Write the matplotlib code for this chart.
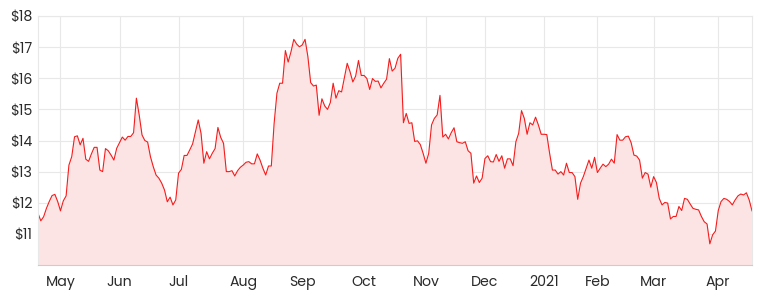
import matplotlib.pyplot as plt
import pandas as pd

# daily closing prices (ASX trading days from 21 Apr 2020)
prices = [
    11.66, 11.42, 11.55, 11.82, 12.04, 12.23, 12.27, 12.04, 11.74, 12.06,
    12.22, 13.21, 13.48, 14.12, 14.15, 13.86, 14.07, 13.40, 13.33, 13.57,
    13.78, 13.78, 13.05, 13.00, 13.74, 13.67, 13.53, 13.37, 13.75, 13.93,
    14.11, 14.01, 14.13, 14.13, 14.25, 15.36, 14.82, 14.18, 14.00, 13.95,
    13.48, 13.16, 12.89, 12.79, 12.63, 12.41, 12.03, 12.18, 11.93, 12.09,
    12.95, 13.07, 13.52, 13.52, 13.70, 13.89, 14.28, 14.66, 14.23, 13.27,
    13.64, 13.41, 13.59, 13.74, 14.42, 14.10, 13.91, 13.00, 13.00, 13.03,
    12.86, 13.03, 13.14, 13.21, 13.30, 13.32, 13.25, 13.25, 13.57, 13.37,
    # Aug -> Dec
    13.11, 12.89, 13.18, 13.18, 14.55, 15.52, 15.84, 15.84, 16.89, 16.52,
    16.85, 17.25, 17.10, 17.01, 17.07, 17.25, 16.70, 15.86, 15.75, 15.78,
    14.81, 15.34, 15.11, 15.00, 15.22, 15.84, 15.36, 15.60, 15.56, 16.02,
    16.48, 16.21, 15.88, 16.07, 16.57, 16.09, 16.09, 15.99, 15.64, 15.99,
    15.90, 15.91, 15.69, 15.84, 15.97, 16.63, 16.23, 16.32, 16.64, 16.77,
    14.57, 14.87, 14.55, 14.57, 13.97, 13.99, 13.87, 13.59, 13.27, 13.59,
    14.50, 14.71, 14.82, 15.45, 14.11, 14.20, 14.05, 14.25, 14.41, 13.96,
    13.93, 13.91, 13.96, 13.67, 13.59, 12.63, 12.86, 12.65, 12.79, 13.42,
    13.51, 13.32, 13.31, 13.55, 13.33, 13.51, 13.11, 13.41, 13.41,
    # Dec -> Apr
    13.19, 13.96, 14.23, 14.96, 14.71, 14.20, 14.57, 14.50, 14.75, 14.50,
    14.20, 14.20, 14.19, 13.59, 13.05, 13.05, 12.92, 13.00, 12.89, 13.27,
    12.97, 12.97, 12.84, 12.11, 12.63, 12.84, 13.11, 13.37, 13.11, 13.46,
    12.97, 13.11, 13.24, 13.16, 13.24, 13.40, 13.27, 14.19, 14.01, 14.01,
    14.12, 14.14, 13.93, 13.53, 13.50, 13.37, 12.79, 12.97, 12.92, 12.50,
    12.84, 12.65, 12.14, 11.93, 12.01, 11.99, 11.48, 11.56, 11.56, 11.88,
    11.75, 12.14, 12.11, 11.96, 11.82, 11.79, 11.77, 11.56, 11.39, 11.32,
    10.68, 10.97, 11.09, 11.75, 12.04, 12.14, 12.11, 12.04, 11.93, 12.09,
    12.22, 12.28, 12.25, 12.32, 12.09, 11.74,
]

holidays = ['2020-06-08', '2020-12-25', '2020-12-28', '2021-01-01',
            '2021-01-26', '2021-04-02', '2021-04-05']
dates = pd.bdate_range('2020-04-21', periods=len(prices), freq='C', holidays=holidays)

month_starts = ['2020-05', '2020-06', '2020-07', '2020-08', '2020-09', '2020-10',
                '2020-11', '2020-12', '2021-01', '2021-02', '2021-03', '2021-04']
month_labels = ['May', 'Jun', 'Jul', 'Aug', 'Sep', 'Oct', 'Nov', 'Dec',
                '2021', 'Feb', 'Mar', 'Apr']
y_ticks = [11, 12, 13, 14, 15, 16, 17, 18]

x = list(range(len(prices)))
periods = dates.to_period('M').astype(str)
tick_pos = [list(periods).index(m) for m in month_starts]

plt.rcParams['font.family'] = ['Poppins', 'Inter', 'DejaVu Sans']
fig = plt.figure(figsize=(7.59, 2.95), dpi=100)
ax = fig.add_axes([38 / 759, 30 / 295, 714 / 759, 249 / 295])

ax.fill_between(x, prices, 10, color='#fde4e4', linewidth=0)
ax.plot(x, prices, color='#f41c1c', linewidth=0.8)

ax.set_xlim(0, len(prices) - 1)
ax.set_ylim(10, 18)
ax.set_yticks(y_ticks)
ax.set_yticklabels(['$%d' % v for v in y_ticks])
ax.set_xticks(tick_pos)
ax.set_xticklabels(month_labels)
ax.grid(True, color='#e8e8e8', linewidth=0.8)
ax.set_axisbelow(True)
ax.tick_params(length=0, labelsize=10.2, labelcolor='#2a2a2a')
ax.tick_params(axis='y', pad=4)
ax.tick_params(axis='x', pad=7)
for side in ['left', 'right', 'top']:
    ax.spines[side].set_color('#e8e8e8')
ax.spines['bottom'].set_color('#cccccc')

plt.savefig('out.png', dpi=100)
